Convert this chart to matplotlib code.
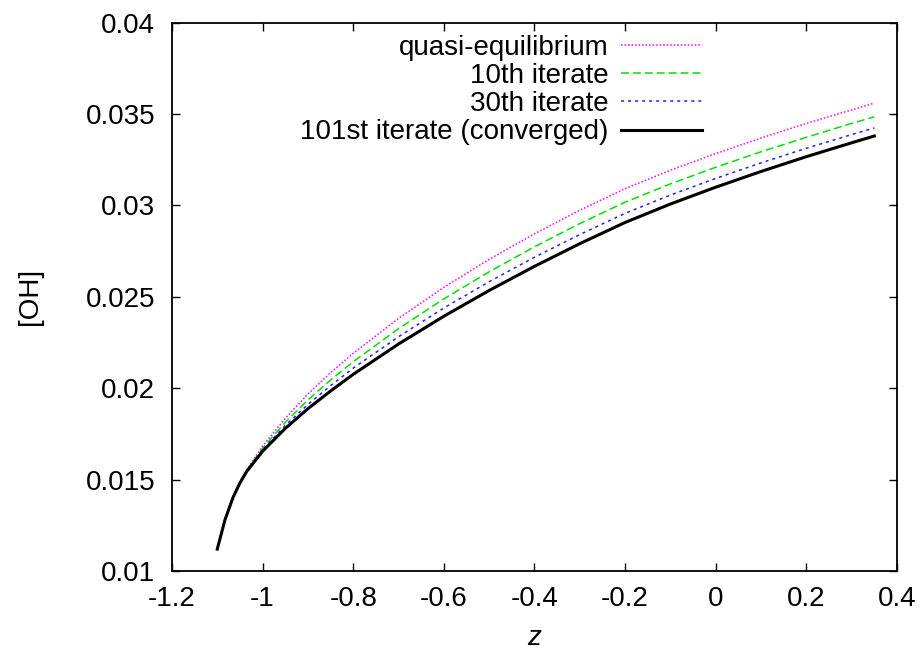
import matplotlib
matplotlib.use("Agg")
import matplotlib.pyplot as plt

plt.rcParams['font.family'] = ['Liberation Sans', 'DejaVu Sans']

# axial coordinate
z = [-1.1, -1.083, -1.065, -1.05, -1.035, -1.0, -0.95, -0.9, -0.85, -0.8,
     -0.7, -0.6, -0.5, -0.4, -0.3, -0.2, -0.1, 0.0, 0.1, 0.2, 0.3, 0.35]

# [OH] profiles
oh_quasi = [0.0112, 0.0128, 0.01405, 0.01486, 0.01555, 0.01683, 0.01835, 0.01968,
            0.02085, 0.02191, 0.02382, 0.02552, 0.02705, 0.02845, 0.02974, 0.03092,
            0.03193, 0.03284, 0.03369, 0.03449, 0.03523, 0.0356]
oh_iter10 = [0.0112, 0.0128, 0.01404, 0.01484, 0.01551, 0.01672, 0.01813, 0.01936,
             0.02045, 0.02145, 0.02326, 0.02489, 0.02637, 0.02774, 0.02901, 0.03018,
             0.03118, 0.03209, 0.03294, 0.03373, 0.03449, 0.03485]
oh_iter30 = [0.0112, 0.0128, 0.01404, 0.01483, 0.01548, 0.01663, 0.01796, 0.01911,
             0.02014, 0.0211, 0.02282, 0.02439, 0.02583, 0.02717, 0.02841, 0.02957,
             0.03057, 0.03148, 0.03233, 0.03313, 0.03388, 0.03424]
oh_conv = [0.0112, 0.0128, 0.01404, 0.01482, 0.01545, 0.01655, 0.0178, 0.01888,
           0.01985, 0.02076, 0.02242, 0.02394, 0.02535, 0.02667, 0.02791, 0.02907,
           0.03008, 0.031, 0.03186, 0.03267, 0.03343, 0.0338]

labels = ["quasi-equilibrium", "10th iterate", "30th iterate",
          "101st iterate (converged)"]

xticks = [-1.2, -1.0, -0.8, -0.6, -0.4, -0.2, 0.0, 0.2, 0.4]
xticklabels = ["-1.2", "-1", "-0.8", "-0.6", "-0.4", "-0.2", "0", "0.2", "0.4"]
yticks = [0.01, 0.015, 0.02, 0.025, 0.03, 0.035, 0.04]
yticklabels = ["0.01", "0.015", "0.02", "0.025", "0.03", "0.035", "0.04"]

fig = plt.figure(figsize=(9.24, 6.52), dpi=100)
ax = fig.add_axes([0.1861, 0.1242, 0.7847, 0.8410])

ax.plot(z, oh_quasi, color="#ff00ff", lw=1.1, linestyle=(0, (1.0, 1.3)),
        label=labels[0])
ax.plot(z, oh_iter10, color="#00e000", lw=1.1, linestyle=(0, (5.2, 2.6)),
        label=labels[1])
ax.plot(z, oh_iter30, color="#2020ff", lw=1.1, linestyle=(0, (2.0, 2.6)),
        label=labels[2])
ax.plot(z, oh_conv, color="black", lw=2.2, label=labels[3])

ax.set_xlim(-1.2, 0.4)
ax.set_ylim(0.01, 0.04)
ax.set_xticks(xticks)
ax.set_xticklabels(xticklabels)
ax.set_yticks(yticks)
ax.set_yticklabels(yticklabels)
ax.tick_params(direction="in", length=5.8, width=1.0, top=True, right=True,
               labelsize=20)
ax.tick_params(axis="x", pad=11)
ax.tick_params(axis="y", pad=12)
for s in ax.spines.values():
    s.set_linewidth(1.3)

ax.set_xlabel("z", fontsize=20, style="italic", labelpad=9)
ax.set_ylabel("[OH]", fontsize=20, labelpad=31)

leg = ax.legend(loc="upper right", bbox_to_anchor=(0.731, 0.978),
                frameon=False, markerfirst=False, fontsize=20,
                handlelength=2.9, handletextpad=0.47, labelspacing=0.08,
                borderpad=0, borderaxespad=0)

fig.savefig("out.png", dpi=100)
